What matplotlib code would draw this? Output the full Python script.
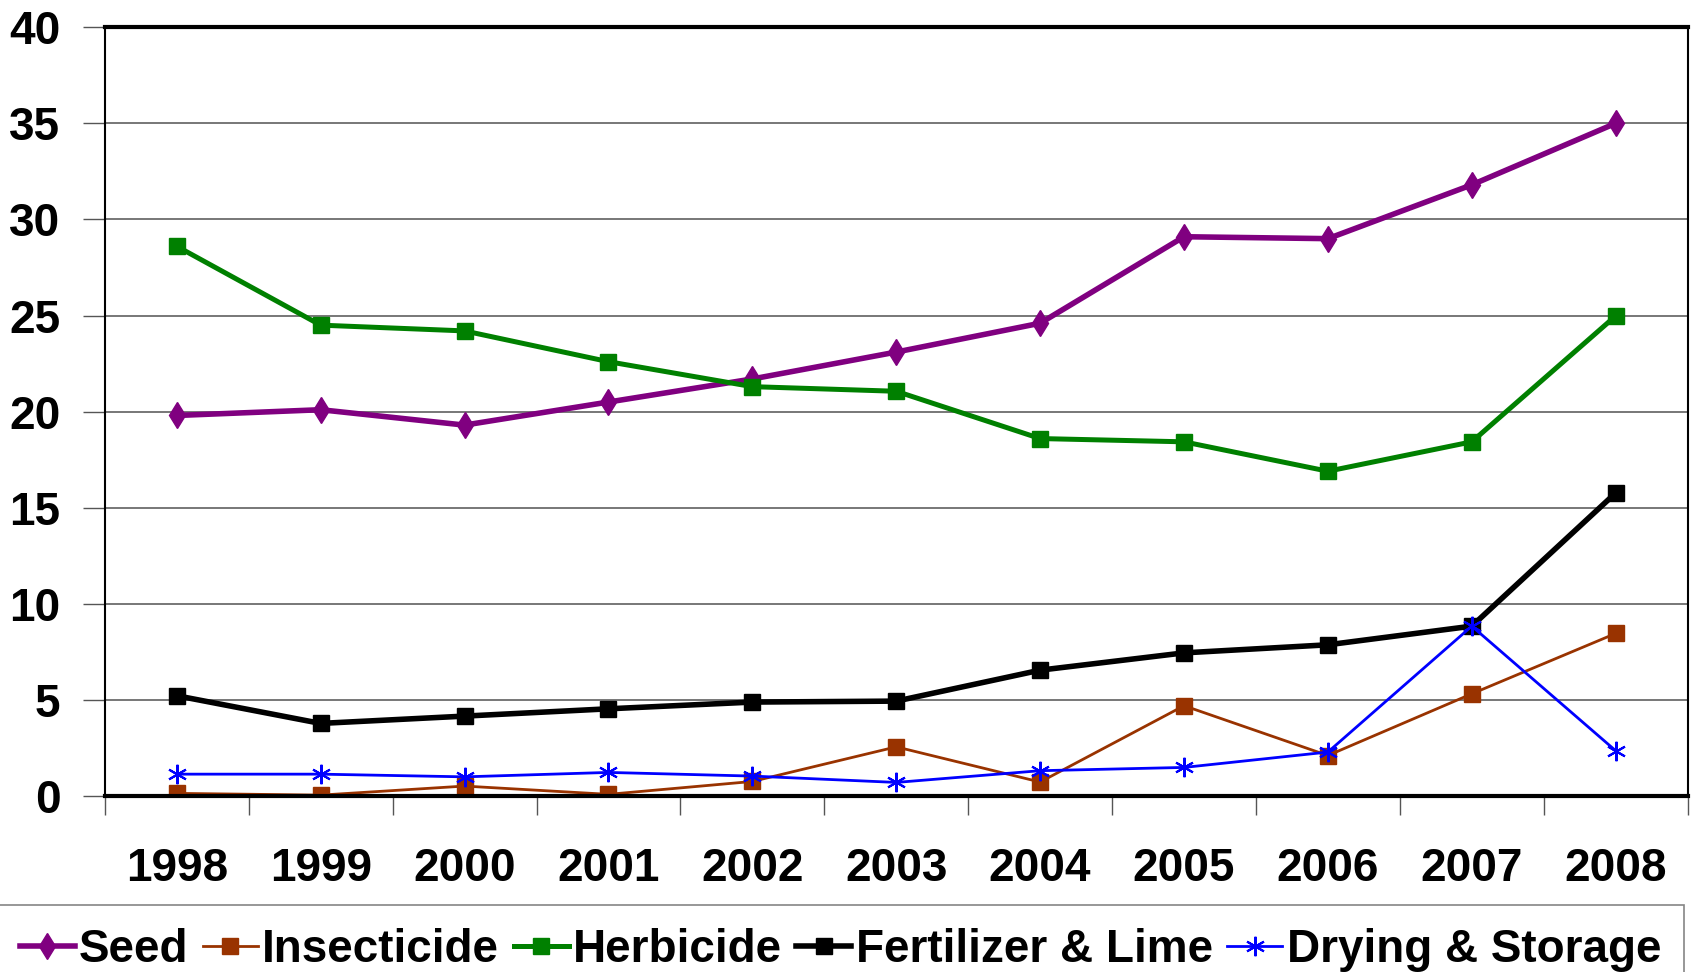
import matplotlib
matplotlib.use('Agg')
import matplotlib.pyplot as plt

# values
years = ['1998', '1999', '2000', '2001', '2002', '2003', '2004', '2005', '2006', '2007', '2008']
seed = [19.8, 20.1, 19.3, 20.5, 21.7, 23.1, 24.6, 29.1, 29.0, 31.8, 35.0]
insecticide = [0.14, 0.05, 0.52, 0.09, 0.76, 2.56, 0.73, 4.70, 2.11, 5.32, 8.46]
herbicide = [28.6, 24.5, 24.2, 22.6, 21.3, 21.06, 18.6, 18.43, 16.9, 18.43, 24.98]
fertilizer = [5.22, 3.78, 4.16, 4.54, 4.89, 4.94, 6.55, 7.45, 7.87, 8.84, 15.77]
drying = [1.14, 1.14, 1.0, 1.23, 1.04, 0.71, 1.32, 1.49, 2.29, 8.84, 2.36]

plt.rcParams['font.family'] = ['Liberation Sans', 'DejaVu Sans']
plt.rcParams['font.weight'] = 'bold'

fig = plt.figure(figsize=(16.91, 9.72), dpi=100)
ax = fig.add_axes([0.062, 0.181, 0.936, 0.791])

x = list(range(len(years)))
ax.plot(x, seed, color='#800080', lw=4, marker='d', ms=13, label='Seed')
ax.plot(x, insecticide, color='#993300', lw=2, marker='s', ms=11, label='Insecticide')
ax.plot(x, herbicide, color='#008000', lw=3.6, marker='s', ms=11.5, label='Herbicide')
ax.plot(x, fertilizer, color='black', lw=4, marker='s', ms=11.5, label='Fertilizer & Lime')
ax.plot(x, drying, color='#0000FF', lw=2, marker=(6, 2, 0), ms=14, mew=1.5,
        label='Drying & Storage')

ax.set_ylim(0, 40)
ax.set_yticks(range(0, 41, 5))
ax.set_xlim(-0.5, len(years) - 0.5)
ax.set_xticks(x)
ax.set_xticklabels(years)
ax.set_xticks([i - 0.5 for i in range(len(years) + 1)], minor=True)
ax.tick_params(axis='x', which='major', length=0, pad=37, labelsize=33)
ax.tick_params(axis='x', which='minor', length=14, width=1, color='#555555')
ax.tick_params(axis='y', length=16, width=1, pad=16, labelsize=33, color='#555555')
ax.yaxis.grid(True, color='#606060', lw=1.2)
ax.set_axisbelow(True)
for s in ['left', 'right']:
    ax.spines[s].set_linewidth(1.5)
    ax.spines[s].set_color('black')
for s in ['top', 'bottom']:
    ax.spines[s].set_linewidth(3)
    ax.spines[s].set_color('black')

leg = fig.legend(loc='upper left', bbox_to_anchor=(-0.002, 0.069, 0.998, 0.0), mode='expand',
                 ncol=5, fontsize=33, frameon=True, fancybox=False, edgecolor='#666666',
                 handlelength=1.2, handletextpad=0.1, columnspacing=0.8, borderaxespad=0,
                 borderpad=0.5)
leg.get_frame().set_linewidth(1.2)

fig.savefig('out.png', dpi=100)
